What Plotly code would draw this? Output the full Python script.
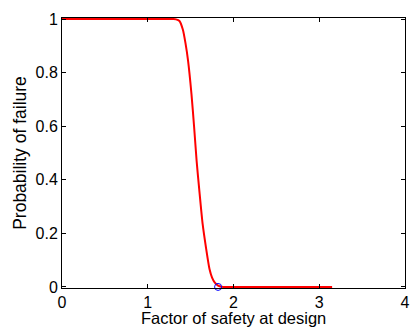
import plotly.graph_objects as go

# Factor of safety at design vs. probability of failure
fos = [0.0, 0.5, 1.0, 1.3, 1.33, 1.37, 1.41, 1.44, 1.47, 1.51, 1.54, 1.57,
       1.6, 1.64, 1.68, 1.72, 1.75, 1.78, 1.82, 1.86, 1.95, 2.5, 3.15]
p_fail = [1.0, 1.0, 1.0, 1.0, 0.999, 0.993, 0.96, 0.91, 0.845, 0.72, 0.6, 0.47,
          0.365, 0.235, 0.145, 0.067, 0.035, 0.017, 0.005, 0.001, 0.0, 0.0, 0.0]

# Design point
design_fos = [1.82]
design_p = [0.0]

x_ticks = [0, 1, 2, 3, 4]
y_ticks = [0, 0.2, 0.4, 0.6, 0.8, 1]
y_tick_text = ["0", "0.2", "0.4", "0.6", "0.8", "1"]

fig = go.Figure()
fig.add_trace(go.Scatter(x=fos, y=p_fail, mode="lines",
                         line=dict(color="red", width=2, shape="spline", smoothing=0.6),
                         cliponaxis=False))
fig.add_trace(go.Scatter(x=design_fos, y=design_p, mode="markers",
                         marker=dict(symbol="circle-open", size=7, color="blue",
                                     line=dict(width=1, color="blue")),
                         cliponaxis=False))

axis_common = dict(showgrid=False, zeroline=False, showline=True, linecolor="black",
                   linewidth=1, mirror="ticks", ticks="inside", ticklen=4,
                   tickcolor="black", ticklabeloverflow="allow",
                   tickfont=dict(size=16, color="black"))

fig.update_layout(
    width=411, height=327,
    margin=dict(l=62, r=1, t=18, b=39),
    paper_bgcolor="white", plot_bgcolor="white",
    font=dict(family="Liberation Sans, Arial, sans-serif", size=16, color="black"),
    showlegend=False,
    xaxis=dict(range=[0, 4], tickvals=x_ticks, **axis_common),
    yaxis=dict(range=[-0.004, 1.004], tickvals=y_ticks, ticktext=y_tick_text,
               title=dict(text="Probability of failure", standoff=4,
                          font=dict(size=17.5)),
               **axis_common),
)

# x-axis title sits low, close to the bottom edge
fig.add_annotation(text="Factor of safety at design", xref="x domain", yref="y domain",
                   x=0.5, y=-30 / 270, xanchor="center", yanchor="middle",
                   showarrow=False, font=dict(size=16.5, color="black"))

fig.write_html("out.html")
